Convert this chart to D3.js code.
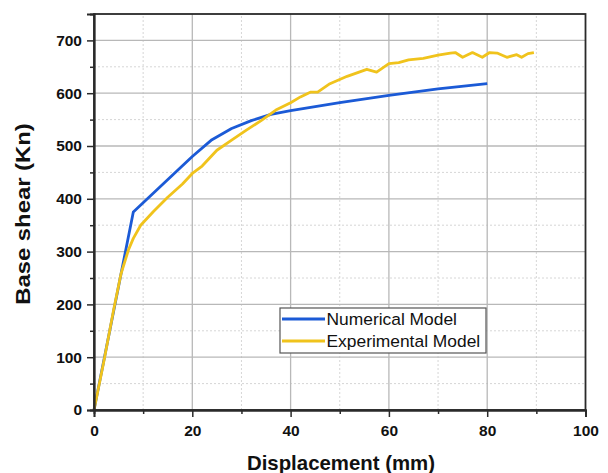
<!DOCTYPE html>
<html><head><meta charset="utf-8">
<script src="https://cdn.jsdelivr.net/npm/d3@7"></script>
<style>body{margin:0;background:#fff}svg{display:block}</style>
</head><body>
<script>
const numX = [0, 8, 12, 16, 20, 24, 28, 32, 36, 40, 50, 60, 70, 80];
const numY = [0, 375, 410, 445, 480, 512, 533, 548, 560, 567, 582, 596, 608, 618];
const expX = [0, 2, 4, 5.5, 7, 8, 9.5, 12, 15, 18, 20, 22, 25, 28, 31, 34, 37, 40, 42, 44, 45.5, 48, 51.5, 55.5, 57.5, 60, 62, 64, 67, 70, 72.5, 73.5, 75, 77, 79, 80.5, 82, 84, 86, 87, 88.3, 89.5];
const expY = [0, 92, 190, 258, 303, 325, 350, 375, 403, 428, 448, 462, 492, 511, 530, 548, 568, 582, 593, 602, 602, 618, 632, 645, 640, 656, 658, 663, 666, 672, 676, 677, 668, 677, 668, 677, 676, 668, 673, 668, 675, 677];
const xTicks = [0, 20, 40, 60, 80, 100];
const yTicks = [0, 100, 200, 300, 400, 500, 600, 700];
const seriesNames = ["Numerical Model", "Experimental Model"];
const colors = ["#1b5ad6", "#f0c31c"];

const FONT = "Liberation Sans, Arial, sans-serif";
const W = 608, H = 473;
const m = {l: 94, r: 608 - 585.5, t: 14, b: 473 - 410};
const svg = d3.select("body").append("svg").attr("width", W).attr("height", H);
const x = d3.scaleLinear().domain([0, 100]).range([m.l, W - m.r]);
const y = d3.scaleLinear().domain([0, 750]).range([H - m.b, m.t]);

// minor grid
const g = svg.append("g");
const xMinor = d3.range(10, 100, 20);
const yMinor = d3.range(50, 750, 100);
g.selectAll(".xmn").data(xMinor).join("line")
  .attr("x1", d => x(d)).attr("x2", d => x(d)).attr("y1", y(0)).attr("y2", y(750))
  .attr("stroke", "#d6d6d6").attr("stroke-width", 1).attr("stroke-dasharray", "2,2");
g.selectAll(".ymn").data(yMinor).join("line")
  .attr("y1", d => y(d)).attr("y2", d => y(d)).attr("x1", x(0)).attr("x2", x(100))
  .attr("stroke", "#d6d6d6").attr("stroke-width", 1).attr("stroke-dasharray", "2,2");
// major grid
g.selectAll(".xmj").data(xTicks.slice(1, -1)).join("line")
  .attr("x1", d => x(d)).attr("x2", d => x(d)).attr("y1", y(0)).attr("y2", y(750))
  .attr("stroke", "#b8b8b8").attr("stroke-width", 1.3);
g.selectAll(".ymj").data(yTicks.slice(1)).join("line")
  .attr("y1", d => y(d)).attr("y2", d => y(d)).attr("x1", x(0)).attr("x2", x(100))
  .attr("stroke", "#b8b8b8").attr("stroke-width", 1.3);

// lines
const line = d3.line().x(d => x(d[0])).y(d => y(d[1]));
const numData = numX.map((v, i) => [v, numY[i]]);
const expData = expX.map((v, i) => [v, expY[i]]);
svg.append("path").datum(numData).attr("d", line).attr("fill", "none")
  .attr("stroke", colors[0]).attr("stroke-width", 2.8).attr("stroke-linejoin", "round");
svg.append("path").datum(expData).attr("d", line).attr("fill", "none")
  .attr("stroke", colors[1]).attr("stroke-width", 2.8).attr("stroke-linejoin", "round");

// frame
svg.append("rect").attr("x", x(0)).attr("y", y(750)).attr("width", x(100) - x(0)).attr("height", y(0) - y(750))
  .attr("fill", "none").attr("stroke", "#2a2a2a").attr("stroke-width", 1.8);

// axes
svg.append("g").attr("transform", `translate(0,${y(0)})`)
  .call(d3.axisBottom(x).tickValues(xTicks).tickSize(7).tickPadding(8));
svg.append("g").attr("transform", `translate(${x(0)},0)`)
  .call(d3.axisLeft(y).tickValues(yTicks).tickSize(7).tickPadding(5));
svg.append("g").attr("transform", `translate(0,${y(0)})`)
  .call(d3.axisBottom(x).tickValues(xMinor).tickSize(4).tickFormat(""));
svg.append("g").attr("transform", `translate(${x(0)},0)`)
  .call(d3.axisLeft(y).tickValues(yMinor).tickSize(4).tickFormat(""));
svg.selectAll(".domain").attr("stroke", "#2a2a2a").attr("stroke-width", 1.8);
svg.selectAll(".tick line").attr("stroke", "#2a2a2a").attr("stroke-width", 1.5);
svg.selectAll(".tick text").attr("font-family", FONT)
  .attr("font-weight", "bold").attr("font-size", 15.5).attr("fill", "#111");

// titles
svg.append("text").attr("x", (248 + 434) / 2).attr("y", 470).attr("text-anchor", "middle")
  .attr("font-family", FONT).attr("font-weight", "bold")
  .attr("font-size", 20.4).attr("fill", "#111").text("Displacement (mm)");
svg.append("text").attr("transform", `translate(30,214) rotate(-90) scale(1.17,1)`).attr("text-anchor", "middle")
  .attr("font-family", FONT).attr("font-weight", "bold")
  .attr("font-size", 20.4).attr("fill", "#111").text("Base shear (Kn)");

// legend
const lg = svg.append("g").attr("transform", "translate(280,308)");
lg.append("rect").attr("width", 206).attr("height", 45).attr("fill", "#fff")
  .attr("stroke", "#555").attr("stroke-width", 1.2);
seriesNames.forEach((n, i) => {
  const yy = 11 + i * 22;
  lg.append("line").attr("x1", 2).attr("x2", 45).attr("y1", yy).attr("y2", yy)
    .attr("stroke", colors[i]).attr("stroke-width", 2.8);
  lg.append("text").attr("x", 46.5).attr("y", yy + 6).attr("font-family", FONT)
    .attr("font-size", 17.4).attr("fill", "#111").text(n);
});
</script>
</body></html>
